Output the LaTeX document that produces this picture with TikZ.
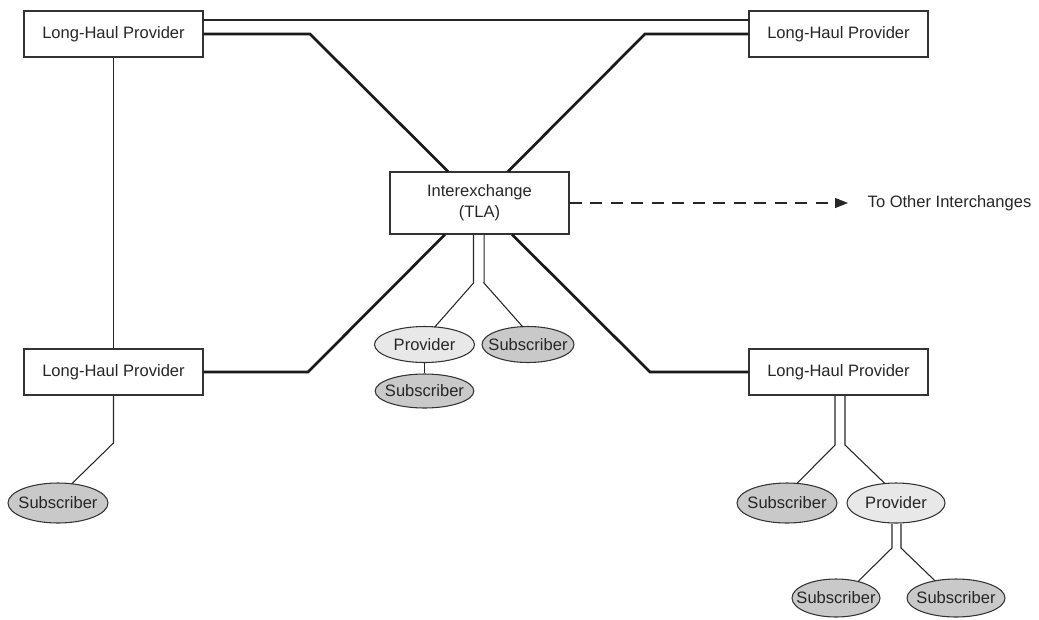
\documentclass[tikz,border=0pt]{standalone}
\usepackage{fontspec}
\setmainfont{Liberation Sans}
\usetikzlibrary{arrows.meta,shapes.geometric}
% keeps the oval size independent of the label width
\newcommand\inoval[1]{\makebox[0pt]{#1}}
\begin{document}
\begin{tikzpicture}[x=0.75pt,y=-0.75pt,
  every node/.style={font=\fontsize{12.4}{15.75}\selectfont, text=black!85},
  lhbox/.style={draw=black!80, line width=0.8pt, minimum width=134.25pt,
                minimum height=34.5pt, inner sep=0pt},
  xbox/.style={lhbox, minimum height=46.5pt, align=center},
  subs/.style={ellipse, draw=black!80, line width=0.8pt, fill=black!21, inner sep=0pt},
  prov/.style={subs, fill=black!9},
  link/.style={line width=0.8pt, draw=black!85},
  trunk/.style={line width=2pt, draw=black!90},
]
\useasboundingbox (0,0) rectangle (1039,619);

% long-haul providers and the interexchange
\node[lhbox] (lhTL) at (113.5,34)  {Long-Haul Provider};
\node[lhbox] (lhTR) at (838.5,34)  {Long-Haul Provider};
\node[lhbox] (lhBL) at (113.5,372) {Long-Haul Provider};
\node[lhbox] (lhBR) at (838.5,372) {Long-Haul Provider};
\node[xbox]  (tla)  at (479.5,203) {Interexchange\\(TLA)};
\node[anchor=west] (other) at (863,203) {To Other Interchanges};

% subscribers and regional providers
\node[subs, minimum width=75pt,   minimum height=30pt]   (subBL)  at (58,503)    {\inoval{Subscriber}};
\node[prov, minimum width=75pt,   minimum height=27pt]   (provC)  at (424.5,344.5) {\inoval{Provider}};
\node[subs, minimum width=69pt,   minimum height=27pt]   (subC)   at (528,344.5) {\inoval{Subscriber}};
\node[subs, minimum width=74pt,   minimum height=25.5pt] (subC2)  at (424.5,391) {\inoval{Subscriber}};
\node[subs, minimum width=75pt,   minimum height=30pt]   (subBR)  at (787,503)   {\inoval{Subscriber}};
\node[prov, minimum width=73.5pt, minimum height=30pt]   (provBR) at (896,503)   {\inoval{Provider}};
\node[subs, minimum width=66pt,   minimum height=28.5pt] (subB1)  at (836,598)   {\inoval{Subscriber}};
\node[subs, minimum width=73.5pt, minimum height=28.5pt] (subB2)  at (956,598)   {\inoval{Subscriber}};

% bend points
\coordinate (kTL) at (310,34);
\coordinate (kTR) at (645,34);
\coordinate (kBL) at (308,372);
\coordinate (kBR) at (650,372);
\coordinate (kSub) at (113.5,443);
\coordinate (kC1) at (473.5,283);
\coordinate (kC2) at (484,283);
\coordinate (kR1) at (835,445);
\coordinate (kR2) at (845,445);
\coordinate (kP1) at (892,548);
\coordinate (kP2) at (901,548);
\coordinate (arrEnd) at (848,203);

% trunk lines to the interexchange
\draw[trunk] (lhTL.east) -- (kTL) -- ([xshift=-23.6pt]tla.north);
\draw[trunk] (lhTR.west) -- (kTR) -- ([xshift=21.4pt]tla.north);
\draw[trunk] (lhBL.east) -- (kBL) -- ([xshift=-25.9pt]tla.south);
\draw[trunk] (lhBR.west) -- (kBR) -- ([xshift=24.4pt]tla.south);

% direct links between long-haul providers
\draw[link] ([yshift=10.5pt]lhTL.east) -- ([yshift=10.5pt]lhTR.west);
\draw[link] (lhTL.south) -- (lhBL.north);

% access links
\draw[link] (lhBL.south) -- (kSub) -- ([shift={(14,-19.5)}]subBL.center);
\draw[link] ([xshift=-4.5pt]tla.south) |- (kC1) -- ([shift={(10,-17.2)}]provC.center);
\draw[link] ([xshift=3.4pt]tla.south) |- (kC2) -- ([shift={(-5,-17.4)}]subC.center);
\draw[link] (provC.south) -- (subC2.north);
\draw[link] (lhBR.south -| kR1) -- (kR1) -- ([shift={(10,-19.6)}]subBR.center);
\draw[link] (lhBR.south -| kR2) -- (kR2) -- ([shift={(-11,-19.4)}]provBR.center);
\draw[link] (provBR.south -| kP1) -- (kP1) -- ([shift={(22,-16.5)}]subB1.center);
\draw[link] (provBR.south -| kP2) -- (kP2) -- ([shift={(-21,-17.2)}]subB2.center);

% dashed arrow to other interchanges
\draw[link, dash pattern=on 9pt off 6.4pt,
      -{Triangle[length=9.75pt,width=7.5pt]}] (tla.east) -- (arrEnd);
\end{tikzpicture}
\end{document}
